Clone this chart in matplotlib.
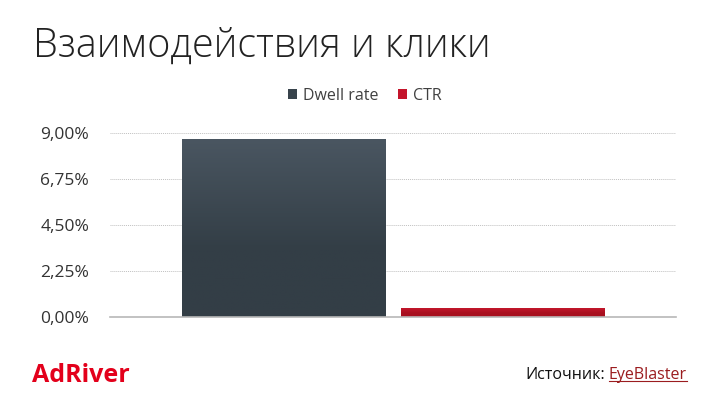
import matplotlib
matplotlib.use("Agg")
import matplotlib.pyplot as plt
import numpy as np
from matplotlib.ticker import FuncFormatter
from matplotlib.colors import LinearSegmentedColormap

series = ["Dwell rate", "CTR"]
values = [8.71, 0.46]
colors = ["#38434c", "#c4142b"]
grad_top = ["#4a5661", "#c8182e"]
grad_bot = ["#333e46", "#a8101f"]
yticks = [0, 2.25, 4.5, 6.75, 9.0]

plt.rcParams['font.family'] = ['Open Sans', 'DejaVu Sans']

fig = plt.figure(figsize=(7.2, 4.05), dpi=100)
ax = fig.add_axes([110/720, 1-317/405, (676-110)/720, (317-133)/405])

x = np.arange(len(series))
bars = ax.bar(x, values, width=0.927, color=colors, label=series, zorder=3)
ax.set_xlim(-0.792, 1.792)
ax.set_ylim(0, 9.0)

# subtle vertical gradient inside each bar
for b, ct, cb in zip(bars, grad_top, grad_bot):
    cmap = LinearSegmentedColormap.from_list("g", [cb, ct])
    x0, y0 = b.get_x(), b.get_y()
    w, h = b.get_width(), b.get_height()
    grad = np.linspace(0, 1, 100).reshape(-1, 1)
    grad = np.clip(grad * 1.6 - 0.6, 0, 1)
    im = ax.imshow(grad, extent=[x0, x0 + w, y0, y0 + h], origin="lower",
                   cmap=cmap, aspect="auto", zorder=4)
    im.set_clip_path(b)
ax.set_xlim(-0.792, 1.792)
ax.set_ylim(0, 9.0)

ax.set_yticks(yticks)
ax.yaxis.set_major_formatter(FuncFormatter(lambda v, p: f"{v:.2f}".replace(".", ",") + "%"))
ax.tick_params(axis='y', length=0, labelsize=12.5, colors="#333333", pad=15)
ax.set_xticks([])
for s in ["top", "right", "left"]:
    ax.spines[s].set_visible(False)
ax.spines["bottom"].set_color("#b8b8b8")
ax.spines["bottom"].set_linewidth(1.2)
ax.spines["bottom"].set_zorder(5)
ax.yaxis.grid(True, linestyle=(0, (1, 1)), color="#c0c0c0", linewidth=0.7, zorder=0)

leg = ax.legend(handles=bars, labels=series, loc="lower center", bbox_to_anchor=(0.45, 1.08),
                ncol=2, frameon=False, fontsize=11.5, handlelength=0.55, handleheight=0.55,
                columnspacing=1.2, handletextpad=0.4)
for t in leg.get_texts():
    t.set_color("#404040")

fig.text(33/720, 1-46/405, "Взаимодействия и клики", fontsize=28.5, fontweight='light',
         color="#222222", va="center", ha="left")

fig.text(32/720, 1-375/405, "AdRiver", fontsize=18, fontweight='bold', color="#e3001b",
         va="center", ha="left")

t2 = fig.text(687/720, 1-375/405, "EyeBlaster", fontsize=11.5, color="#9b1c1f", va="center", ha="right")
fig.canvas.draw()
bb = t2.get_window_extent()
t1 = fig.text((bb.x0 - 4)/720, 1-375/405, "Источник:", fontsize=11.5, color="#111111", va="center", ha="right")
fig.add_artist(plt.Line2D([bb.x0/720, bb.x1/720], [(bb.y0+2)/405, (bb.y0+2)/405],
                          color="#9b1c1f", linewidth=0.8, transform=fig.transFigure))

fig.savefig("out.png", dpi=100)
